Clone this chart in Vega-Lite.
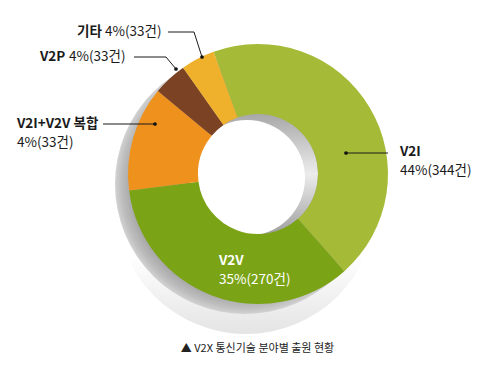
{
  "$schema": "https://vega.github.io/schema/vega-lite/v6.json",
  "width": 484,
  "height": 348,
  "padding": {"left": 16, "top": 0, "right": 0, "bottom": 24},
  "autosize": "none",
  "background": "white",
  "config": {"view": {"stroke": null}, "font": "Noto Sans CJK KR"},
  "datasets": {
    "share": [
      {"category": "V2I", "count": 344, "order": 1},
      {"category": "V2V", "count": 270, "order": 2},
      {"category": "V2I+V2V 복합", "count": 102, "order": 3},
      {"category": "V2P", "count": 33, "order": 4},
      {"category": "기타", "count": 33, "order": 5}
    ],
    "labels": [
      {"text": "기타", "x": 61, "y": 32, "style": "b"},
      {"text": "4%(33건)", "x": 89, "y": 32, "style": "r"},
      {"text": "V2P", "x": 24, "y": 57, "style": "b"},
      {"text": "4%(33건)", "x": 53, "y": 57, "style": "r"},
      {"text": "V2I+V2V 복합", "x": 1, "y": 124, "style": "b"},
      {"text": "4%(33건)", "x": 1, "y": 143, "style": "r"},
      {"text": "V2I", "x": 384, "y": 152, "style": "b"},
      {"text": "44%(344건)", "x": 384, "y": 171, "style": "r"},
      {"text": "V2V", "x": 203, "y": 261, "style": "wb"},
      {"text": "35%(270건)", "x": 203, "y": 280, "style": "wr"},
      {"text": "▲ V2X 통신기술 분야별 출원 현황", "x": 241.5, "y": 349, "style": "cap"}
    ],
    "leaders": [
      {"x": 152, "y": 32, "x2": 178, "y2": 32},
      {"x": 178, "y": 32, "x2": 186, "y2": 57},
      {"x": 118, "y": 57, "x2": 150, "y2": 57},
      {"x": 150, "y": 57, "x2": 160, "y2": 69},
      {"x": 87, "y": 124, "x2": 139, "y2": 124},
      {"x": 330, "y": 153, "x2": 372, "y2": 153}
    ],
    "dots": [
      {"x": 186, "y": 57},
      {"x": 160, "y": 69},
      {"x": 139, "y": 124},
      {"x": 330, "y": 153}
    ]
  },
  "layer": [
    {
      "data": {"values": [{}]},
      "mark": {"type": "arc", "theta": 0, "theta2": 6.2832, "outerRadius": 130, "innerRadius": 0, "xOffset": -12, "yOffset": 30,
        "color": {"gradient": "linear", "x1": 0, "y1": 0, "x2": 0, "y2": 1, "stops": [{"offset": 0, "color": "#ffffff"}, {"offset": 0.7, "color": "#ffffff"}, {"offset": 1, "color": "#e4e4e4"}]}},
      "encoding": {}
    },
    {
      "data": {"values": [{}]},
      "mark": {"type": "arc", "theta": 0, "theta2": 6.2832, "outerRadius": 130, "innerRadius": 0, "xOffset": -13, "yOffset": 10,
        "color": {"gradient": "radial", "x1": 0.5, "y1": 0.5, "r1": 0, "x2": 0.5, "y2": 0.5, "r2": 0.5, "stops": [{"offset": 0, "color": "#9a9a9a"}, {"offset": 0.88, "color": "#a9a9a9"}, {"offset": 0.95, "color": "#bdbdbd"}, {"offset": 1, "color": "#d2d2d2"}]}},
      "encoding": {}
    },
    {
      "data": {"values": [{}]},
      "mark": {"type": "arc", "theta": 0, "theta2": 6.2832, "outerRadius": 60, "innerRadius": 0,
        "color": {"gradient": "linear", "x1": 0, "y1": 0, "x2": 0, "y2": 1, "stops": [{"offset": 0, "color": "#a8a8a8"}, {"offset": 0.5, "color": "#ececec"}, {"offset": 1, "color": "#a0a0a0"}]}},
      "encoding": {}
    },
    {
      "data": {"values": [{}]},
      "mark": {"type": "arc", "theta": 0, "theta2": 6.2832, "outerRadius": 58, "innerRadius": 0, "xOffset": -11, "yOffset": 4, "color": "#ffffff"},
      "encoding": {}
    },
    {
      "data": {"name": "share"},
      "mark": {"type": "arc", "outerRadius": 130, "innerRadius": 60, "stroke": null},
      "encoding": {
        "theta": {"field": "count", "type": "quantitative", "stack": true, "scale": {"range": [-0.349, 5.934]}},
        "order": {"field": "order", "type": "quantitative"},
        "color": {"field": "category", "type": "nominal", "legend": null,
          "scale": {"domain": ["V2I", "V2V", "V2I+V2V 복합", "V2P", "기타"], "range": ["#a5bb38", "#7aa416", "#ef921d", "#7b4323", "#efb02b"]}}
      }
    },
    {
      "data": {"name": "leaders"},
      "mark": {"type": "rule", "color": "#1a1a1a", "strokeWidth": 1},
      "encoding": {
        "x": {"field": "x", "type": "quantitative", "scale": {"domain": [0, 484]}, "axis": null},
        "y": {"field": "y", "type": "quantitative", "scale": {"domain": [0, 348], "reverse": true}, "axis": null},
        "x2": {"field": "x2"},
        "y2": {"field": "y2"}
      }
    },
    {
      "data": {"name": "dots"},
      "mark": {"type": "circle", "color": "#111111", "size": 14, "opacity": 1},
      "encoding": {
        "x": {"field": "x", "type": "quantitative", "scale": {"domain": [0, 484]}, "axis": null},
        "y": {"field": "y", "type": "quantitative", "scale": {"domain": [0, 348], "reverse": true}, "axis": null}
      }
    },
    {
      "data": {"name": "labels"},
      "transform": [{"filter": "datum.style === 'b'"}],
      "mark": {"type": "text", "align": "left", "baseline": "middle", "fontSize": 13.5, "fontWeight": "bold", "color": "#1a1a1a"},
      "encoding": {
        "x": {"field": "x", "type": "quantitative", "scale": {"domain": [0, 484]}, "axis": null},
        "y": {"field": "y", "type": "quantitative", "scale": {"domain": [0, 348], "reverse": true}, "axis": null},
        "text": {"field": "text"}
      }
    },
    {
      "data": {"name": "labels"},
      "transform": [{"filter": "datum.style === 'r'"}],
      "mark": {"type": "text", "align": "left", "baseline": "middle", "fontSize": 13.5, "color": "#1a1a1a"},
      "encoding": {
        "x": {"field": "x", "type": "quantitative", "scale": {"domain": [0, 484]}, "axis": null},
        "y": {"field": "y", "type": "quantitative", "scale": {"domain": [0, 348], "reverse": true}, "axis": null},
        "text": {"field": "text"}
      }
    },
    {
      "data": {"name": "labels"},
      "transform": [{"filter": "datum.style === 'wb'"}],
      "mark": {"type": "text", "align": "left", "baseline": "middle", "fontSize": 13.5, "fontWeight": "bold", "color": "#ffffff"},
      "encoding": {
        "x": {"field": "x", "type": "quantitative", "scale": {"domain": [0, 484]}, "axis": null},
        "y": {"field": "y", "type": "quantitative", "scale": {"domain": [0, 348], "reverse": true}, "axis": null},
        "text": {"field": "text"}
      }
    },
    {
      "data": {"name": "labels"},
      "transform": [{"filter": "datum.style === 'wr'"}],
      "mark": {"type": "text", "align": "left", "baseline": "middle", "fontSize": 13.5, "color": "#ffffff"},
      "encoding": {
        "x": {"field": "x", "type": "quantitative", "scale": {"domain": [0, 484]}, "axis": null},
        "y": {"field": "y", "type": "quantitative", "scale": {"domain": [0, 348], "reverse": true}, "axis": null},
        "text": {"field": "text"}
      }
    },
    {
      "data": {"name": "labels"},
      "transform": [{"filter": "datum.style === 'cap'"}],
      "mark": {"type": "text", "align": "center", "baseline": "middle", "fontSize": 11, "color": "#222222"},
      "encoding": {
        "x": {"field": "x", "type": "quantitative", "scale": {"domain": [0, 484]}, "axis": null},
        "y": {"field": "y", "type": "quantitative", "scale": {"domain": [0, 348], "reverse": true}, "axis": null},
        "text": {"field": "text"}
      }
    }
  ]
}
